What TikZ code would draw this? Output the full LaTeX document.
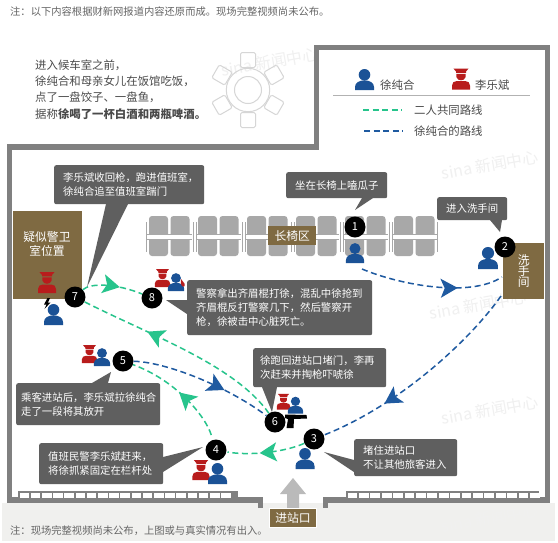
\documentclass[tikz,border=0pt]{standalone}
\usepackage{fontspec}
\setmainfont{Noto Sans CJK SC}
\usetikzlibrary{arrows.meta,decorations.markings}
\definecolor{WallGrey}{HTML}{808080}
\definecolor{CallGrey}{HTML}{5F5F5F}
\definecolor{SeatGrey}{HTML}{A8A8A8}
\definecolor{Brown}{HTML}{7F6A42}
\definecolor{ManBlue}{HTML}{1B5296}
\definecolor{CopRed}{HTML}{B81C1C}
\definecolor{RouteGreen}{HTML}{27C48C}
\definecolor{RouteBlue}{HTML}{1F5AA0}
\definecolor{Ink}{HTML}{4A4A4A}
\definecolor{Paper}{HTML}{F0F0EE}
\newcommand{\callfont}{\fontsize{10.4}{14}\selectfont}
\tikzset{
  wall/.style={draw=WallGrey,line width=5.5pt,miter limit=10},
  callbox/.style={fill=CallGrey,rounded corners=2pt,text=white,align=left,inner xsep=9pt,inner ysep=0pt,anchor=north west,font=\callfont},
  calltail/.style={fill=CallGrey},
  brownbox/.style={fill=Brown,text=white,align=center,inner sep=0pt,font=\fontsize{11.8}{14}\selectfont},
  numdot/.style={circle,fill=black,text=white,minimum size=21pt,inner sep=0pt,font=\fontsize{11}{11}\selectfont},
  plain/.style={text=Ink,anchor=west,inner sep=0pt,align=left,font=\fontsize{11.4}{16.3}\selectfont},
  noteline/.style={text=Ink!85,anchor=west,inner sep=0pt,font=\fontsize{10.3}{12}\selectfont},
  wmark/.style={text=black!6,rotate=10,inner sep=0pt,font=\fontsize{16}{16}\selectfont},
  tableline/.style={draw=black!16,line width=1pt,rounded corners=1.5pt},
  greenroute/.style={draw=RouteGreen,line width=1.5pt,dash pattern=on 6pt off 3.6pt},
  blueroute/.style={draw=RouteBlue,line width=1.5pt,dash pattern=on 6pt off 3.6pt},
  headat/.style={postaction={decorate},decoration={markings,mark=at position #1 with {\arrow{Stealth[length=17pt,width=19pt,inset=4pt]}}}},
  xuman/.pic={
    \fill[ManBlue] (0,-15.2) circle[radius=5.8];
    \fill[ManBlue] (-9.5,0) -- (-9.5,-3) .. controls (-9.5,-7.5) and (-5,-9.6) .. (0,-9.6) .. controls (5,-9.6) and (9.5,-7.5) .. (9.5,-3) -- (9.5,0) -- cycle;
  },
  liman/.pic={
    \fill[CopRed] (-9,0) -- (-9,-4) .. controls (-9,-7) and (-7,-8.5) .. (-4,-8.5) -- (4,-8.5) .. controls (7,-8.5) and (9,-7) .. (9,-4) -- (9,0) -- cycle;
    \fill[CopRed] (-4.6,-15.6) -- (4.6,-15.6) -- (4.6,-12.5) .. controls (4,-10) and (2,-9.2) .. (0,-9.2) .. controls (-2,-9.2) and (-4,-10) .. (-4.6,-12.5) -- cycle;
    \fill[CopRed] (-7.6,-21) -- (7.6,-21) -- (5,-18) -- (5,-16.6) -- (-5,-16.6) -- (-5,-18) -- cycle;
  }
}
\begin{document}
\begin{tikzpicture}[x=1pt,y=-1pt]
  \useasboundingbox (0,0) rectangle (558,542);
  \fill[white] (0,0) rectangle (558,542);
  \fill[Paper] (2,503) rectangle (555,541);
  % watermarks
  \foreach \px/\py [count=\i] in {270/62,490/165,478/305,490/410,490/518}
    \node[wmark] (wm\i) at (\px,\py) {\textit{sina} 新闻中心};
  % walls
  \draw[wall] (260.5,508) -- (260.5,500) -- (9.5,500) -- (9.5,147) -- (316.5,147) -- (316.5,47.5) -- (547.5,47.5) -- (547.5,500) -- (325.5,500) -- (325.5,508);
  % rails
  \fill[black!50] (18,491) rectangle (238,499);
  \foreach \i in {0,...,18} \fill[white] (19.5+11.2*\i,492.5) rectangle +(9.6,5);
  \fill[black!50] (346,491) rectangle (539,499);
  \foreach \i in {0,...,16} \fill[white] (347.5+11.4*\i,492.5) rectangle +(9.8,5);
  % round table
  \draw[tableline] (248,90) circle[radius=21.7];
  \draw[tableline] (248,90) circle[radius=13.5];
  \foreach \a in {0,60,...,300}
    \draw[tableline,rotate around={\a:(248,90)}] (240.5,52.5) rectangle (255.5,67.5);
  % benches
  \foreach \x in {149,198,247,296,345,394}{
    \fill[SeatGrey,rounded corners=3pt] (\x,216) rectangle +(19,40);
    \fill[SeatGrey,rounded corners=3pt] (\x+21.5,216) rectangle +(19,40);
  }
  \fill[white] (146,234.5) rectangle (438,239.5);
  \draw[SeatGrey,line width=.7pt] (146,234.5) -- (438,234.5) (146,239.5) -- (438,239.5);
  \foreach \x in {146,437} \draw[SeatGrey,line width=.8pt] (\x,222) -- (\x,252);
  \foreach \x in {193,242,291,340,389}{
    \fill[white] (\x-1,222) rectangle (\x+4,252);
    \draw[SeatGrey,line width=.8pt] (\x,222) -- (\x,252) (\x+3,222) -- (\x+3,252);
  }
  % rooms
  \fill[Brown] (12.5,211) rectangle (81.5,299);
  \node[text=white,align=center,inner sep=0pt,font=\fontsize{11.8}{14}\selectfont] (guardroom) at (47,244) {疑似警卫\\室位置};
  \node[brownbox,minimum width=41pt,minimum height=56pt,anchor=north west,font=\fontsize{11.8}{11.2}\selectfont] (washroom) at (503,243) {洗\\手\\间};
  \node[brownbox,minimum width=48pt,minimum height=19pt,anchor=north west] (benchzone) at (268,226) {长椅区};
  % entrance
  \fill[black!27] (293,478) -- (306,494) -- (299,494) -- (299,509) -- (287,509) -- (287,494) -- (280,494) -- cycle;
  \node[brownbox,draw=white,line width=1pt,minimum width=47pt,minimum height=19pt,anchor=north west] (gate) at (269,508) {进站口};
  % people
  \pic[scale=.95] at (355,263) {xuman};
  \pic[scale=1.05] at (488,269) {xuman};
  \pic at (305,469) {xuman};
  \pic[scale=.95] at (201,480) {liman};
  \pic at (217.5,484) {xuman};
  \pic[scale=.85] at (89.5,363) {liman};
  \pic[scale=.85] at (102,366) {xuman};
  \pic[scale=.75] at (283.5,409.5) {liman};
  \pic[scale=.8] at (295.5,413.5) {xuman};
  \pic at (47,293) {liman};
  \pic at (53.5,325) {xuman};
  \pic[scale=.85] at (162.5,287) {liman};
  \pic[scale=.85] at (176,291) {xuman};
  \fill[CopRed] (181,279) .. controls (182,282) and (186,283) .. (184.5,286) .. controls (183,288) and (180,286) .. (181,279) -- cycle;
  % gun and spark
  \fill[black] (285,414.5) -- (306.5,415) -- (307,418.5) -- (294,419) -- (293.5,428) -- (286.5,428) -- (288,419) -- (285,418) -- cycle;
  \fill[black] (47.5,298) -- (44,304.5) -- (46.5,304.5) -- (44.5,309) -- (50.5,302.5) -- (48,302.5) -- (50,298) -- cycle;
  % numbers
  \node[numdot] (n1) at (355,227) {1};
  \node[numdot] (n2) at (505,247) {2};
  \node[numdot] (n3) at (314,439) {3};
  \node[numdot] (n4) at (216,450) {4};
  \node[numdot] (n5) at (123,361) {5};
  \node[numdot] (n6) at (275,422) {6};
  \node[numdot] (n7) at (75,297) {7};
  \node[numdot] (n8) at (152,298) {8};
  % routes
  \coordinate (seatout) at (362,269);
  \coordinate (washin) at (502,277);
  \coordinate (washout) at (501,296);
  \draw[blueroute,headat=.68] (seatout) .. controls (400,285) and (470,298) .. (washin);
  \draw[blueroute,headat=.70] (washout) .. controls (470,340) and (400,405) .. (n3);
  \draw[greenroute,headat=.58,shorten >=1pt] (n3) .. controls (285,452) and (250,456) .. (n4);
  \draw[greenroute,headat=.52,shorten <=5pt] (n4) .. controls (205,415) and (175,380) .. (n5);
  \draw[blueroute,headat=.66] (n5) .. controls (165,362) and (225,385) .. (n6);
  \draw[greenroute,headat=.68] (n6) .. controls (235,365) and (150,335) .. (n7);
  \draw[greenroute,headat=.62] (n7) .. controls (90,283) and (115,283) .. (n8);
  % callouts
  \fill[calltail] (106,204) -- (87,287) -- (128,204) -- cycle;
  \node[callbox,text width=132pt,minimum height=39pt] (note7) at (54,165) {李乐斌收回枪，跑进值班室，\\徐纯合追至值班室踹门};
  \fill[calltail] (362,198) -- (355,210) -- (373,198) -- cycle;
  \node[callbox,text width=83pt,minimum height=26pt] (note1) at (286,172) {坐在长椅上嗑瓜子};
  \fill[calltail] (490,220) -- (500,232) -- (502,220) -- cycle;
  \node[callbox,text width=52pt,minimum height=23pt] (note2) at (437,197) {进入洗手间};
  \fill[calltail] (187,300) -- (166,300) -- (187,314) -- cycle;
  \node[callbox,text width=167pt,minimum height=55pt] (note8) at (187,280) {警察拿出齐眉棍打徐，混乱中徐抢到\\齐眉棍反打警察几下，然后警察开\\枪，徐被击中心脏死亡。};
  \fill[calltail] (262,387) -- (272,412) -- (277,387) -- cycle;
  \node[callbox,inner xsep=7pt,text width=119pt,minimum height=39pt] (note6) at (253,348) {徐跑回进站口堵门，李再\\次赶来并掏枪吓唬徐};
  \fill[calltail] (354,460) -- (324,452) -- (354,472) -- cycle;
  \node[callbox,text width=85pt,minimum height=37pt] (note3) at (354,439) {堵住进站口\\不让其他旅客进入};
  \fill[calltail] (163,457) -- (203,447) -- (163,472) -- cycle;
  \node[callbox,text width=106pt,minimum height=41pt] (note4) at (39,443) {值班民警李乐斌赶来，\\将徐抓紧固定在栏杆处};
  \fill[calltail] (92,383) -- (111,372) -- (108,383) -- cycle;
  \node[callbox,inner xsep=5pt,text width=134pt,minimum height=42pt] (note5) at (16,383) {乘客进站后，李乐斌拉徐纯合\\走了一段将其放开};
  % legend
  \pic at (364.5,90) {xuman};
  \node[plain] (xuname) at (380,85) {徐纯合};
  \pic at (461,89.5) {liman};
  \node[plain] (liname) at (475,85) {李乐斌};
  \draw[black!30,line width=.8pt] (333,95) -- (530,95);
  \coordinate (gstart) at (363,110);
  \coordinate (gend) at (402,110);
  \draw[greenroute] (gstart) -- (gend);
  \node[plain] (gname) at (414,110) {二人共同路线};
  \coordinate (bstart) at (364,131);
  \coordinate (bend) at (403,131);
  \draw[blueroute] (bstart) -- (bend);
  \node[plain] (bname) at (414,131) {徐纯合的路线};
  % texts
  \node[plain] (story) at (35,89.5) {进入候车室之前，\\徐纯合和母亲女儿在饭馆吃饭，\\点了一盘饺子、一盘鱼，\\据称\textbf{徐喝了一杯白酒和两瓶啤酒。}};
  \node[noteline] (topnote) at (10,12) {注：以下内容根据财新网报道内容还原而成。现场完整视频尚未公布。};
  \node[noteline] (footnote) at (10,531) {注：现场完整视频尚未公布，上图或与真实情况有出入。};
\end{tikzpicture}
\end{document}
